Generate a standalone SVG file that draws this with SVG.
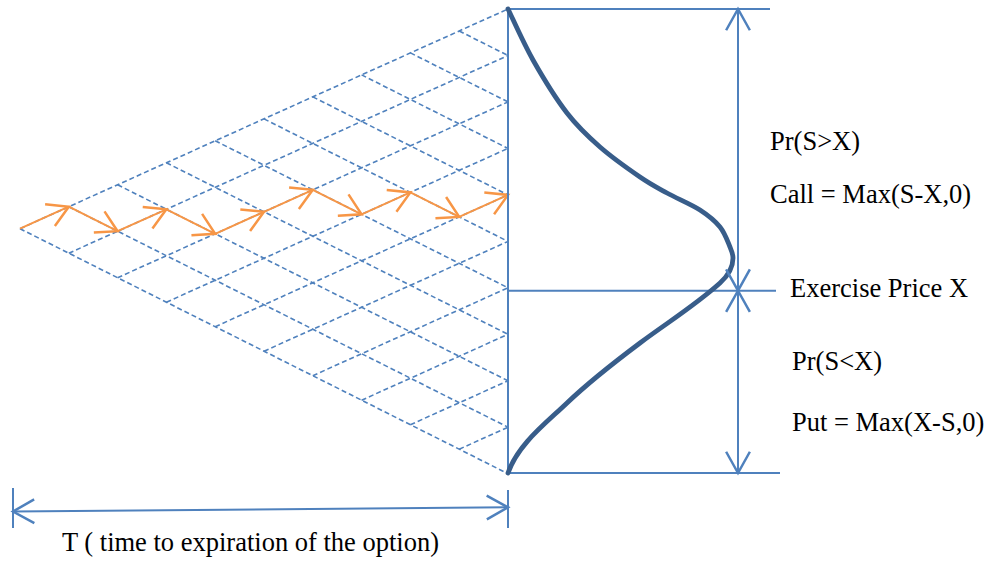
<svg xmlns="http://www.w3.org/2000/svg" width="989" height="561" viewBox="0 0 989 561">
<style>
.grid line{stroke:#4F81BD;stroke-width:1.6;stroke-dasharray:5 3;fill:none}
.blue{stroke:#4F81BD;stroke-width:2;fill:none}
.path line{stroke:#F79646;stroke-width:2;fill:none;marker-end:url(#ao)}
.dbl{stroke:#4F81BD;stroke-width:2;fill:none;marker-start:url(#ab);marker-end:url(#ab)}
text{font-family:"Liberation Serif","Times New Roman",serif;font-size:26.5px;fill:#000}
</style>
<defs>
<marker id="ab" markerUnits="userSpaceOnUse" markerWidth="30" markerHeight="30" viewBox="-20 -12 24 24" refX="0" refY="0" orient="auto-start-reverse" overflow="visible"><path d="M-17,-9.5 L0,0 L-17,9.5" fill="none" stroke="#4F81BD" stroke-width="2"/></marker>
<marker id="ao" markerUnits="userSpaceOnUse" markerWidth="30" markerHeight="30" viewBox="-20 -12 24 24" refX="0" refY="0" orient="auto" overflow="visible"><path d="M-16.5,-9.5 L0,0 L-16.5,9.5" fill="none" stroke="#F79646" stroke-width="2"/></marker>
</defs>
<g id="lattice" class="grid">
<line x1="20" y1="228.7" x2="508" y2="9"/>
<line x1="68.8" y1="253.2" x2="508" y2="55.5"/>
<line x1="117.6" y1="277.7" x2="508" y2="101.9"/>
<line x1="166.4" y1="302.2" x2="508" y2="148.4"/>
<line x1="215.2" y1="326.7" x2="508" y2="194.9"/>
<line x1="264" y1="351.2" x2="508" y2="241.4"/>
<line x1="312.8" y1="375.7" x2="508" y2="287.8"/>
<line x1="361.6" y1="400.2" x2="508" y2="334.3"/>
<line x1="410.4" y1="424.7" x2="508" y2="380.8"/>
<line x1="459.2" y1="449.2" x2="508" y2="427.2"/>
<line x1="20" y1="228.7" x2="508" y2="473.7"/>
<line x1="68.8" y1="206.7" x2="508" y2="427.2"/>
<line x1="117.6" y1="184.8" x2="508" y2="380.8"/>
<line x1="166.4" y1="162.8" x2="508" y2="334.3"/>
<line x1="215.2" y1="140.8" x2="508" y2="287.8"/>
<line x1="264" y1="118.9" x2="508" y2="241.4"/>
<line x1="312.8" y1="96.9" x2="508" y2="194.9"/>
<line x1="361.6" y1="74.9" x2="508" y2="148.4"/>
<line x1="410.4" y1="52.9" x2="508" y2="101.9"/>
<line x1="459.2" y1="31" x2="508" y2="55.5"/>
</g>
<g id="price-path" class="path">
<line x1="20" y1="228.7" x2="68.8" y2="206.7"/>
<line x1="68.8" y1="206.7" x2="117.6" y2="231.2"/>
<line x1="117.6" y1="231.2" x2="166.4" y2="209.3"/>
<line x1="166.4" y1="209.3" x2="215.2" y2="233.8"/>
<line x1="215.2" y1="233.8" x2="264" y2="211.8"/>
<line x1="264" y1="211.8" x2="312.8" y2="189.8"/>
<line x1="312.8" y1="189.8" x2="361.6" y2="214.3"/>
<line x1="361.6" y1="214.3" x2="410.4" y2="192.4"/>
<line x1="410.4" y1="192.4" x2="459.2" y2="216.9"/>
<line x1="459.2" y1="216.9" x2="508" y2="194.9"/>
</g>
<g id="frame">
<line class="blue" x1="508" y1="9" x2="508" y2="473" stroke-width="2.5"/>
<line class="blue" x1="508" y1="9" x2="770" y2="9"/>
<line class="blue" x1="508" y1="290.7" x2="776" y2="290.7"/>
<line class="blue" x1="508" y1="473" x2="780" y2="473"/>
</g>
<g id="distribution">
<path d="M508,9 C512.2,17.5 523.2,42.7 533,60 C542.8,77.3 555.8,98.5 567,113 C578.2,127.5 587.8,136.3 600,147 C612.2,157.7 628.8,169.3 640,177 C651.2,184.7 657,187.5 667,193 C677,198.5 691.2,204.3 700,210 C708.8,215.7 715,220.8 720,227 C725,233.2 727.8,241.8 730,247 C732.2,252.2 733,254 733,258 C733,267.4 727,276.7 720,283 C695.6,305.1 666.4,323.2 640,343 C614.8,361.9 589.7,381.3 567,403 C545,424 518,444.3 508,473" fill="none" stroke="#385D8A" stroke-width="4.8" stroke-linecap="round"/>
</g>
<g id="connectors">
<line class="dbl" x1="738" y1="9" x2="738" y2="290.7"/>
<line class="dbl" x1="738" y1="290.7" x2="738" y2="473"/>
<line class="dbl" x1="13" y1="511.5" x2="508" y2="507.3"/>
<line class="blue" x1="13" y1="488" x2="13" y2="528"/>
<line class="blue" x1="508" y1="490" x2="508" y2="528"/>
</g>
<g id="labels">
<text x="770" y="150">Pr(S&gt;X)</text>
<text x="770" y="203">Call = Max(S-X,0)</text>
<text x="790" y="297">Exercise Price X</text>
<text x="792" y="370">Pr(S&lt;X)</text>
<text x="792" y="431">Put = Max(X-S,0)</text>
<text x="62" y="551">T ( time to expiration of the option)</text>
</g>
</svg>
